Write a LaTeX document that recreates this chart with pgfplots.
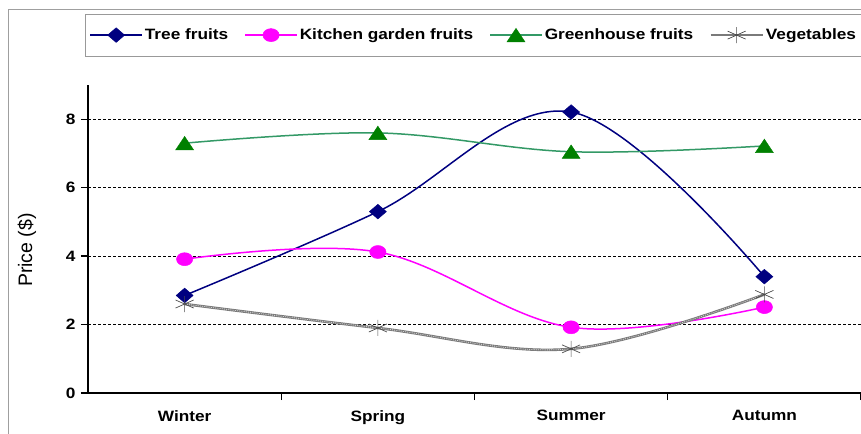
\documentclass[border=0pt]{standalone}
\usepackage{fontspec}
\setmainfont{Liberation Sans}
\newfontfamily\wide[FakeStretch=1.15]{Liberation Sans}
\usepackage{pgfplots}
\pgfplotsset{compat=1.18}
\definecolor{navy}{HTML}{000080}
\definecolor{mag}{HTML}{FF00FF}
\definecolor{gline}{HTML}{339966}
\definecolor{gmark}{HTML}{008000}
\definecolor{vgray}{HTML}{7A7A7A}
\begin{document}
\begin{tikzpicture}
\useasboundingbox (0,0) rectangle (861bp,434bp);
\clip (0,0) rectangle (861bp,434bp);
\draw[gray!75, line width=1bp] (8bp,-5bp) -- (8bp,424bp) -- (870bp,424bp);
\begin{axis}[
  at={(88bp,41bp)}, anchor=south west, scale only axis,
  width=773bp, height=308bp,
  xmin=-0.5, xmax=3.5, ymin=0, ymax=9,
  axis x line*=bottom, axis y line*=left,
  x axis line style={line width=2.2bp, black},
  y axis line style={line width=2.8bp, black},
  xtick={0.5,1.5,2.5,3.5},
  xticklabels={Winter,Spring,Summer,Autumn},
  xticklabel style={xshift=-96.6bp, yshift=-7bp},
  ytick={0,2,4,6,8},
  extra y ticks={2,4,6,8},
  extra y tick labels={},
  extra y tick style={grid=major, major tick length=0pt},
  xtick align=outside, ytick align=outside,
  xtick pos=left, ytick pos=left,
  major tick length=7bp,
  every tick/.style={line width=1.4bp, black, solid},
  grid style={black, line width=1bp, dash pattern=on 2.5bp off 2.5bp},
  /pgf/number format/assume math mode=true,
  tick label style={font=\wide\bfseries\fontsize{15bp}{18bp}\selectfont},
  yticklabel style={xshift=-2bp},
  ylabel={Price (\$)},
  ylabel style={font=\fontsize{19.5bp}{22bp}\selectfont, at={(axis description cs:-0.079,0.464)}, anchor=center},
  legend columns=4,
  legend style={at={(axis description cs:0.499,1.162)}, anchor=center,
    draw=gray!80, line width=0.8bp,
    font=\wide\bfseries\fontsize{15bp}{18bp}\selectfont,
    inner xsep=4bp, inner ysep=13bp,
    /tikz/every even column/.append style={column sep=14bp}},
  legend image code/.code={\draw[mark repeat=2,mark phase=2] plot coordinates {(0bp,0bp) (26bp,0bp) (52bp,0bp)};},
]
\addplot[color=navy, line width=1.5bp, smooth, tension=0.6, mark=diamond*, mark size=7.3bp,
  mark options={solid, fill=navy, draw=navy, xscale=1.55, line width=0.5bp}]
  coordinates {(0,2.85) (1,5.3) (2,8.21) (3,3.4)};
\addlegendentry{Tree fruits}
\addplot[color=mag, line width=1.5bp, smooth, tension=0.6, mark=*, mark size=6.5bp,
  mark options={solid, fill=mag, draw=mag, xscale=1.25, line width=0.5bp}]
  coordinates {(0,3.91) (1,4.12) (2,1.92) (3,2.51)};
\addlegendentry{Kitchen garden fruits}
\addplot[color=gline, line width=1.5bp, smooth, tension=0.6, mark=triangle*, mark size=9bp,
  mark options={solid, fill=gmark, draw=gmark, xscale=1.15, yshift=-2.25bp, line width=0.5bp}]
  coordinates {(0,7.3) (1,7.6) (2,7.05) (3,7.22)};
\addlegendentry{Greenhouse fruits}
\addplot[color=vgray, line width=2.6bp, smooth, tension=0.6, mark=asterisk, mark size=8bp,
  mark options={solid, draw=black!70, xscale=1.3, line width=0.7bp}]
  coordinates {(0,2.6) (1,1.9) (2,1.29) (3,2.88)};
\addlegendentry{Vegetables}
\addplot[forget plot, color=gray!35, line width=0.8bp, dash pattern=on 1bp off 1.2bp, smooth, tension=0.6]
  coordinates {(0,2.6) (1,1.9) (2,1.29) (3,2.88)};
\end{axis}
% y-axis tick marks (outward), at the axis' 0,2,4,6,8 positions
\foreach \v in {0,2,4,6,8}
  \draw[black, line width=1.4bp] (88bp,{(41+\v*308/9)*1bp}) -- ++(-7bp,0);
\end{tikzpicture}
\end{document}
